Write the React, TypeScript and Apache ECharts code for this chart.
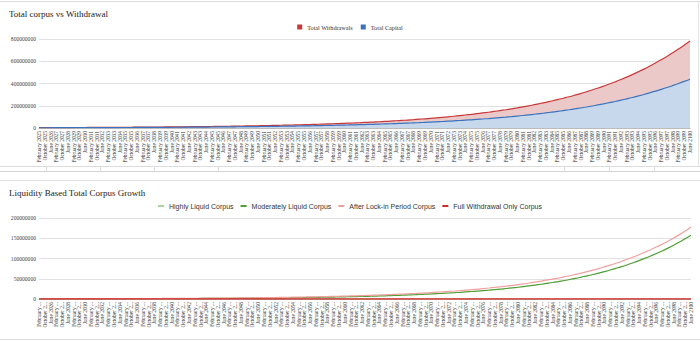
import React, { useEffect, useRef } from "react";
import * as echarts from "echarts";

const categories: string[] = [
  "February 2025","October 2025","June 2026","February 2027","October 2027","June 2028",
  "February 2029","October 2029","June 2030","February 2031","October 2031","June 2032",
  "February 2033","October 2033","June 2034","February 2035","October 2035","June 2036",
  "February 2037","October 2037","June 2038","February 2039","October 2039","June 2040",
  "February 2041","October 2041","June 2042","February 2043","October 2043","June 2044",
  "February 2045","October 2045","June 2046","February 2047","October 2047","June 2048",
  "February 2049","October 2049","June 2050","February 2051","October 2051","June 2052",
  "February 2053","October 2053","June 2054","February 2055","October 2055","June 2056",
  "February 2057","October 2057","June 2058","February 2059","October 2059","June 2060",
  "February 2061","October 2061","June 2062","February 2063","October 2063","June 2064",
  "February 2065","October 2065","June 2066","February 2067","October 2067","June 2068",
  "February 2069","October 2069","June 2070","February 2071","October 2071","June 2072",
  "February 2073","October 2073","June 2074","February 2075","October 2075","June 2076",
  "February 2077","October 2077","June 2078","February 2079","October 2079","June 2080",
  "February 2081","October 2081","June 2082","February 2083","October 2083","June 2084",
  "February 2085","October 2085","June 2086","February 2087","October 2087","June 2088",
  "February 2089","October 2089","June 2090","February 2091","October 2091","June 2092",
  "February 2093","October 2093","June 2094","February 2095","October 2095","June 2096",
  "February 2097","October 2097","June 2098","February 2099","October 2099","June 2100"
];

// values in millions
const totalWithdrawals: number[] = [
  3.15,3.31,3.47,3.65,3.83,4.02,4.22,4.43,4.65,4.89,5.13,5.39,5.66,5.94,6.24,6.55,6.88,7.22,7.58,7.96,
  8.36,8.78,9.22,9.68,10.2,10.7,11.2,11.8,12.4,13.0,13.6,14.3,15.0,15.8,16.6,17.4,18.3,19.2,20.1,21.1,
  22.2,23.3,24.5,25.7,27.0,28.3,29.8,31.2,32.8,34.4,36.2,38.0,39.9,41.9,44.0,46.2,48.5,50.9,53.4,56.1,
  58.9,61.9,65.0,68.2,71.6,75.2,79.0,82.9,87.1,91.4,96.0,100.8,105.8,111.1,116.7,122.5,128.6,135.1,141.8,148.9,
  156.4,164.2,172.4,181.0,190.1,199.6,209.6,220.0,231.0,242.6,254.7,267.5,280.8,294.9,309.6,325.1,341.3,358.4,376.3,395.1,
  414.9,435.6,457.4,480.3,504.3,529.5,556.0,583.8,613.0,643.6,675.8,709.6,745.1,782.3
];
const totalCapital: number[] = [
  2.20,2.31,2.42,2.53,2.65,2.78,2.91,3.05,3.20,3.35,3.51,3.68,3.86,4.04,4.24,4.44,4.65,4.88,5.11,5.36,
  5.61,5.88,6.17,6.46,6.77,7.10,7.44,7.79,8.17,8.56,8.97,9.40,9.85,10.3,10.8,11.3,11.9,12.4,13.0,13.7,
  14.3,15.0,15.7,16.5,17.3,18.1,19.0,19.9,20.8,21.8,22.9,24.0,25.1,26.3,27.6,28.9,30.3,31.8,33.3,34.9,
  36.6,38.3,40.2,42.1,44.1,46.2,48.4,50.8,53.2,55.8,58.4,61.2,64.2,67.3,70.5,73.9,77.4,81.1,85.0,89.1,
  93.4,97.8,102.5,107.5,112.6,118.0,123.7,129.6,135.9,142.4,149.2,156.4,163.9,171.8,180.0,188.6,197.7,207.2,217.1,227.6,
  238.5,250.0,262.0,274.5,287.7,301.5,316.0,331.2,347.1,363.7,381.2,399.5,418.7,438.8
];
const highlyLiquid: number[] = new Array(114).fill(0);
const moderatelyLiquid: number[] = [
  0.27,0.29,0.30,0.32,0.34,0.36,0.38,0.40,0.42,0.45,0.47,0.50,0.53,0.56,0.59,0.63,0.66,0.70,0.74,0.79,
  0.83,0.88,0.93,0.99,1.04,1.10,1.17,1.24,1.31,1.38,1.46,1.55,1.64,1.73,1.83,1.94,2.05,2.17,2.30,2.43,
  2.57,2.72,2.88,3.05,3.22,3.41,3.61,3.82,4.04,4.27,4.52,4.78,5.06,5.35,5.66,5.99,6.34,6.70,7.09,7.50,
  7.94,8.40,8.88,9.40,9.94,10.5,11.1,11.8,12.5,13.2,14.0,14.8,15.6,16.5,17.5,18.5,19.6,20.7,21.9,23.2,
  24.5,25.9,27.4,29.0,30.7,32.5,34.4,36.4,38.5,40.7,43.1,45.6,48.2,51.0,54.0,57.1,60.4,63.9,67.6,71.5,
  75.7,80.0,84.7,89.6,94.8,100.3,106.1,112.2,118.7,125.6,132.9,140.6,148.7,157.4
];
const afterLockIn: number[] = [
  0.42,0.44,0.47,0.49,0.52,0.55,0.58,0.61,0.64,0.68,0.72,0.76,0.80,0.84,0.89,0.94,0.99,1.04,1.10,1.16,
  1.22,1.29,1.36,1.44,1.52,1.60,1.69,1.78,1.88,1.98,2.09,2.21,2.33,2.45,2.59,2.73,2.88,3.04,3.21,3.38,
  3.57,3.76,3.97,4.19,4.42,4.66,4.92,5.19,5.47,5.77,6.09,6.43,6.78,7.15,7.55,7.96,8.40,8.86,9.35,9.86,
  10.4,11.0,11.6,12.2,12.9,13.6,14.3,15.1,15.9,16.8,17.7,18.7,19.7,20.8,22.0,23.2,24.4,25.8,27.2,28.7,
  30.3,31.9,33.7,35.5,37.5,39.5,41.7,44.0,46.4,49.0,51.7,54.5,57.5,60.7,64.0,67.5,71.2,75.1,79.3,83.6,
  88.2,93.1,98.2,103.6,109.3,115.3,121.6,128.3,135.4,142.8,150.7,159.0,167.7,178.0
];
const fullWithdrawalOnly: number[] = new Array(114).fill(0);

const topTicks = [0, 200000000, 400000000, 600000000, 800000000];
const bottomTicks = [0, 50000000, 100000000, 150000000, 200000000];

const SERIF = "'Liberation Serif', 'Times New Roman', serif";
const SANS = "'Liberation Sans', Arial, sans-serif";
const M = 1000000;
const toAbs = (a: number[]) => a.map((v) => Math.round(v * M));

export default function App() {
  const ref = useRef<HTMLDivElement>(null);
  useEffect(() => {
    document.body.style.margin = "0";
    const chart = echarts.init(ref.current!, null, { renderer: "svg" });
    const yAxisCommon = {
      type: "value",
      min: 0,
      axisLine: { show: false },
      axisTick: { show: false },
      axisLabel: { fontFamily: SERIF, fontSize: 5.6, color: "#444", margin: 3, formatter: (v: number) => String(v) },
      splitLine: { lineStyle: { color: "#e2e2e2", width: 1 } },
    };
    const xAxisCommon = {
      type: "category",
      data: categories,
      boundaryGap: false,
      axisLine: { lineStyle: { color: "#bbb", width: 1 } },
      axisTick: { show: false },
    };
    const line = (color: string, w = 1.2) => ({ color, width: w });
    chart.setOption({
      animation: false,
      backgroundColor: "#fff",
      title: [
        { text: "Total corpus vs Withdrawal", left: 9, top: 9, padding: 0, textStyle: { fontFamily: SERIF, fontSize: 9, fontWeight: "normal", color: "#222" } },
        { text: "Liquidity Based Total Corpus Growth", left: 9, top: 188, padding: 0, textStyle: { fontFamily: SERIF, fontSize: 9, fontWeight: "normal", color: "#222" } },
      ],
      legend: [
        {
          data: ["Total Withdrawals", "Total Capital"],
          top: 24, left: "center", padding: 0, icon: "rect", itemWidth: 5, itemHeight: 5, itemGap: 8,
          textStyle: { fontFamily: SERIF, fontSize: 6.2, color: "#333" },
        },
        {
          data: ["Highly Liquid Corpus", "Moderately Liquid Corpus", "After Lock-in Period Corpus", "Full Withdrawal Only Corpus"],
          top: 202.5, left: "center", padding: 0, icon: "rect", itemWidth: 6, itemHeight: 2, itemGap: 7,
          textStyle: { fontFamily: SANS, fontSize: 7, color: "#333" },
        },
      ],
      grid: [
        { left: 39, right: 10, top: 39, height: 89 },
        { left: 39, right: 9, top: 218, height: 81 },
      ],
      xAxis: [
        { ...xAxisCommon, gridIndex: 0, axisLabel: { rotate: 90, interval: 0, fontFamily: SERIF, fontSize: 5.4, color: "#333", margin: 3 } },
        { ...xAxisCommon, gridIndex: 1, axisLabel: { rotate: 90, interval: 0, fontFamily: SERIF, fontSize: 5.4, color: "#333", margin: 3, width: 28, overflow: "truncate" } },
      ],
      yAxis: [
        { ...yAxisCommon, gridIndex: 0, max: topTicks[topTicks.length - 1], interval: topTicks[1] - topTicks[0] },
        { ...yAxisCommon, gridIndex: 1, max: bottomTicks[bottomTicks.length - 1], interval: bottomTicks[1] - bottomTicks[0] },
      ],
      series: [
        {
          name: "Total Withdrawals", type: "line", xAxisIndex: 0, yAxisIndex: 0, data: toAbs(totalWithdrawals),
          showSymbol: false, smooth: true, color: "#c9393a", lineStyle: line("#c9393a"),
          areaStyle: { color: "#ecc9c9", opacity: 1 },
        },
        {
          name: "Total Capital", type: "line", xAxisIndex: 0, yAxisIndex: 0, data: toAbs(totalCapital),
          showSymbol: false, smooth: true, color: "#3a72bd", lineStyle: line("#3a72bd"),
          areaStyle: { color: "#c8d8ec", opacity: 1 },
        },
        {
          name: "Highly Liquid Corpus", type: "line", xAxisIndex: 1, yAxisIndex: 1, data: toAbs(highlyLiquid),
          showSymbol: false, smooth: true, color: "#a6d69a", lineStyle: line("#a6d69a"),
        },
        {
          name: "Moderately Liquid Corpus", type: "line", xAxisIndex: 1, yAxisIndex: 1, data: toAbs(moderatelyLiquid),
          showSymbol: false, smooth: true, color: "#4f9e33", lineStyle: line("#4f9e33"),
        },
        {
          name: "After Lock-in Period Corpus", type: "line", xAxisIndex: 1, yAxisIndex: 1, data: toAbs(afterLockIn),
          showSymbol: false, smooth: true, color: "#f1a0a0", lineStyle: line("#f1a0a0"),
        },
        {
          name: "Full Withdrawal Only Corpus", type: "line", xAxisIndex: 1, yAxisIndex: 1, data: toAbs(fullWithdrawalOnly),
          showSymbol: false, smooth: true, color: "#d42a2a", lineStyle: line("#d42a2a", 1.4),
        },
      ],
      graphic: [
        { type: "line", shape: { x1: 0, y1: 1.5, x2: 700, y2: 1.5 }, style: { stroke: "#dcdcdc", lineWidth: 1 }, silent: true },
        { type: "line", shape: { x1: 698.5, y1: 1, x2: 698.5, y2: 167 }, style: { stroke: "#e4e4e4", lineWidth: 1 }, silent: true },
        { type: "line", shape: { x1: 0, y1: 166.5, x2: 700, y2: 166.5 }, style: { stroke: "#dcdcdc", lineWidth: 1 }, silent: true },
        { type: "line", shape: { x1: 0, y1: 171.5, x2: 700, y2: 171.5 }, style: { stroke: "#d4d4d4", lineWidth: 1 }, silent: true },
        ...[46.5, 100.5, 154.5, 218.5, 564.5, 609.5, 654.5].map((x) => ({
          type: "line", shape: { x1: x, y1: 166.5, x2: x, y2: 171.5 }, style: { stroke: "#dcdcdc", lineWidth: 1 }, silent: true,
        })),
        { type: "line", shape: { x1: 0, y1: 180.5, x2: 700, y2: 180.5 }, style: { stroke: "#e4e4e4", lineWidth: 1 }, silent: true },
        { type: "line", shape: { x1: 0, y1: 339.5, x2: 700, y2: 339.5 }, style: { stroke: "#dcdcdc", lineWidth: 1 }, silent: true },
      ],
    });
    return () => chart.dispose();
  }, []);
  return <div ref={ref} style={{ position: "fixed", left: 0, top: 0, width: 700, height: 341 }} />;
}
